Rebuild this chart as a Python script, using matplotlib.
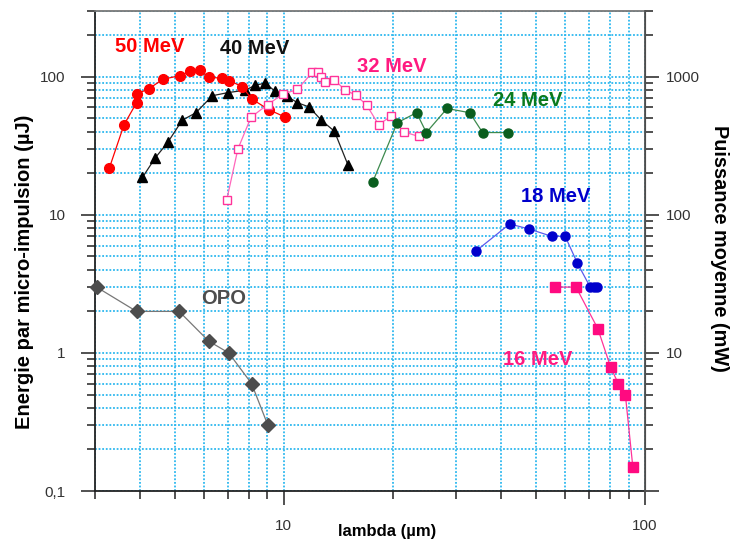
import matplotlib
matplotlib.use("Agg")
import matplotlib.pyplot as plt
from matplotlib.ticker import FixedLocator, NullFormatter, FixedFormatter

plt.rcParams["font.family"] = ["Liberation Sans", "DejaVu Sans"]

# 50 MeV
x50 = [3.29, 3.61, 3.91, 3.91, 4.23, 4.62, 5.15, 5.51, 5.85, 6.22, 6.74, 7.06, 7.66, 8.16, 9.07, 10.1]
y50 = [22, 45, 65, 75, 82, 96, 102, 110, 112, 99, 98, 94, 85, 69, 58, 51]
# 40 MeV
x40 = [4.06, 4.41, 4.77, 5.23, 5.71, 6.34, 7.02, 7.82, 8.33, 8.88, 9.44, 10.2, 10.9, 11.75, 12.7, 13.8, 15.05]
y40 = [18.7, 26, 33.5, 48.5, 55, 73, 77, 80, 87, 90, 79, 72.5, 65, 60.5, 48.5, 40.4, 23]
# 32 MeV
x32 = [6.95, 7.46, 8.11, 9.02, 9.94, 10.9, 12.0, 12.4, 12.65, 13.0, 13.8, 14.8, 15.8, 16.95, 18.3, 19.8, 21.5, 23.6]
y32 = [12.9, 30, 51, 63, 75, 81, 108, 108, 100, 92, 95, 80, 74, 62.5, 45, 52, 40, 37]
# 24 MeV
x24 = [17.6, 20.6, 23.3, 24.8, 28.3, 32.7, 35.5, 41.8]
y24 = [17.2, 46.5, 55, 39.5, 59, 55, 39.5, 39.5]
# 18 MeV
x18 = [34.1, 42.2, 47.8, 55.1, 60.1, 64.9, 70.5, 72.2, 73.8]
y18 = [5.5, 8.6, 7.9, 7.0, 7.0, 4.5, 3.0, 3.0, 3.0]
# 16 MeV
x16 = [56.3, 64.4, 74.0, 80.3, 84.3, 88.2, 92.5]
y16 = [3.0, 3.0, 1.5, 0.79, 0.6, 0.5, 0.15]
# OPO
xopo = [3.03, 3.91, 5.13, 6.19, 7.04, 8.14, 9.03]
yopo = [3.0, 2.0, 2.0, 1.22, 1.0, 0.6, 0.3]

fig = plt.figure(figsize=(7.33, 5.44), dpi=100)
ax = fig.add_axes([0.1296, 0.0974, 0.7504, 0.8824])

ax.set_xscale("log")
ax.set_yscale("log")
ax.set_xlim(3, 100)
ax.set_ylim(0.1, 300)

grid_col = "#2db8ef"
ax.grid(True, which="both", color=grid_col, linestyle=(0, (1, 1)), linewidth=1.3, zorder=0)
ax.set_axisbelow(True)

ax.plot(x40, y40, color="#222222", lw=0.9, marker="^", ms=7.5, mfc="black", mec="black", zorder=3)
ax.plot(x50, y50, color="#ff0000", lw=0.9, marker="o", ms=7, mfc="#ff0000", mec="#ff0000", zorder=4)
ax.plot(x32, y32, color="#ff66bb", lw=0.9, marker="s", ms=6, mfc="white", mec="#ff3399", mew=1.0, zorder=4)
ax.plot(x24, y24, color="#3d8a4e", lw=0.9, marker="o", ms=6.5, mfc="#0a5e1e", mec="#0a5e1e", zorder=5)
ax.plot(x18, y18, color="#5a5aee", lw=0.9, marker="o", ms=6.5, mfc="#0000cc", mec="#0000cc", zorder=5)
ax.plot(x16, y16, color="#ff3399", lw=0.9, marker="s", ms=6.5, mfc="#ff0a80", mec="#ff0a80", zorder=5)
ax.plot(xopo, yopo, color="#777777", lw=0.9, marker="D", ms=7, mfc="#4d4d4d", mec="#4d4d4d", zorder=5, clip_on=False)

# labels on curves
tk = dict(fontsize=14.5, fontweight="bold", ha="left", va="center")
ax.text(3.41, 165, "50 MeV", color="#ff0000", **tk)
ax.text(6.66, 160, "40 MeV", color="#111111", **tk)
ax.text(15.98, 118, "32 MeV", color="#ff1a80", **tk)
ax.text(37.9, 67.8, "24 MeV", color="#0a7a1e", **tk)
ax.text(45.4, 13.7, "18 MeV", color="#0000cc", **tk)
ax.text(40.4, 0.895, "16 MeV", color="#ff1a80", **tk)
ax.text(5.9, 2.48, "OPO", color="#4d4d4d", **tk)

# ticks
xmaj = [10, 100]
xmin = [3, 4, 5, 6, 7, 8, 9, 20, 30, 40, 50, 60, 70, 80, 90]
ax.xaxis.set_major_locator(FixedLocator(xmaj))
ax.xaxis.set_major_formatter(FixedFormatter(["10", "100"]))
ax.xaxis.set_minor_locator(FixedLocator(xmin))
ax.xaxis.set_minor_formatter(NullFormatter())

ymaj = [0.1, 1, 10, 100]
ymin = [k * d for d in (0.1, 1, 10, 100) for k in range(2, 10) if k * d <= 300]
ax.yaxis.set_major_locator(FixedLocator(ymaj))
ax.yaxis.set_major_formatter(FixedFormatter(["0,1", "1", "10", "100"]))
ax.yaxis.set_minor_locator(FixedLocator(ymin))
ax.yaxis.set_minor_formatter(NullFormatter())

ax.tick_params(axis="both", which="major", direction="out", length=10, width=1.2, color="#333333",
               labelsize=11, labelcolor="#333333")
ax.tick_params(axis="y", which="major", pad=11)
ax.tick_params(axis="x", which="major", pad=10)
ax.tick_params(axis="both", which="minor", direction="out", length=5.5, width=1.2, color="#333333")

for s in ["left", "bottom"]:
    ax.spines[s].set_color("#222222")
    ax.spines[s].set_linewidth(1.3)
ax.spines["top"].set_color("#777777")
ax.spines["top"].set_linewidth(1.3)

ax2 = ax.twinx()
ax2.set_yscale("log")
ax2.set_ylim(1, 3000)
ax2.yaxis.set_major_locator(FixedLocator([1, 10, 100, 1000]))
ax2.yaxis.set_major_formatter(FixedFormatter(["", "10", "100", "1000"]))
ax2.yaxis.set_minor_locator(FixedLocator([v * 10 for v in ymin]))
ax2.yaxis.set_minor_formatter(NullFormatter())
ax2.tick_params(axis="y", which="major", direction="out", length=10, width=1.2, color="#333333",
                labelsize=11, labelcolor="#333333", pad=5)
ax2.tick_params(axis="y", which="minor", direction="out", length=5.5, width=1.2, color="#333333")
ax2.spines["right"].set_color("#555555")
ax2.spines["right"].set_linewidth(1.3)
for s in ["top", "left", "bottom"]:
    ax2.spines[s].set_visible(False)

fig.text(0.528, 0.023, "lambda (µm)", fontsize=12, fontweight="bold", ha="center", va="center")
fig.text(0.033, 0.50, "Energie par micro-impulsion (µJ)", fontsize=14.5, fontweight="bold",
         rotation=90, ha="center", va="center")
fig.text(0.981, 0.544, "Puissance moyenne (mW)", fontsize=14.3, fontweight="bold",
         rotation=-90, ha="center", va="center")

fig.savefig("out.png", dpi=100)
